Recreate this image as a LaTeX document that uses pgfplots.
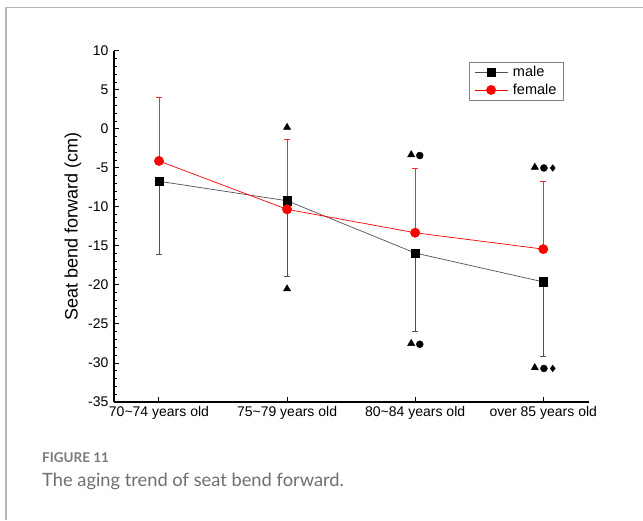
\documentclass[border=0pt]{standalone}
\usepackage{fontspec}
\setmainfont{Liberation Sans}
\newfontfamily\capfont{Lato}
\usepackage{pgfplots}
\pgfplotsset{compat=1.18}
\definecolor{framegray}{HTML}{B4B4B4}
\definecolor{capgray}{HTML}{7A7A7A}
\definecolor{capgray2}{HTML}{6E6E6E}
\definecolor{errgray}{HTML}{505050}
\definecolor{pred}{HTML}{FF0000}
\definecolor{femerrcol}{RGB}{255,40,40}

\pgfplotstableread{
x y
0 -6.7
1 -9.2
2 -15.9
3 -19.6
}\maletab
\pgfplotstableread{
x y
0 -4.1
1 -10.3
2 -13.3
3 -15.4
}\femaletab

\begin{document}
\begin{tikzpicture}[x=1pt,y=1pt]
\useasboundingbox (0,0) rectangle (643,520);
\draw[framegray, line width=1.5pt] (6,0) -- (6,512.5) -- (643,512.5);
\begin{axis}[
  at={(114pt,118pt)}, anchor=south west,
  scale only axis, width=475pt, height=351pt,
  xmin=-0.351, xmax=3.357, ymin=-35, ymax=10,
  axis x line*=bottom, axis y line*=left,
  axis line style={-, line width=1.1pt},
  every tick/.style={black, line width=1pt},
  tick align=inside,
  major tick length=5pt, minor tick length=3pt,
  xtick={0,1,2,3},
  xticklabels={70\textasciitilde 74 years old, 75\textasciitilde 79 years old, 80\textasciitilde 84 years old, over 85 years old},
  ytick={-35,-30,...,10},
  minor ytick={-34,-33,...,9},
  /pgf/number format/assume math mode=true,
  tick label style={font=\fontsize{14}{16}\selectfont},
  yticklabel style={xshift=-2pt},
  xticklabel style={yshift=-1pt},
  ylabel={Seat bend forward (cm)},
  ylabel style={font=\fontsize{18}{20}\selectfont},
  clip=false,
  legend style={at={(0.747,0.97)}, anchor=north west, draw=gray, line width=0.8pt,
    font=\fontsize{14.5}{16}\selectfont, inner xsep=5pt, inner ysep=2.5pt, row sep=1.5pt,
    cells={anchor=west}},
  legend image code/.code={\draw[#1, mark=none] (0pt,0pt) -- (33pt,0pt);
    \draw[#1, only marks] plot coordinates {(16.5pt,0pt)};
    \path (36pt,0pt);},
]
% error bars (male: lower, female: upper)
\addplot[color=errgray, line width=0.8pt, mark=-, mark size=3.2pt, mark indices={2}, forget plot] coordinates {(0,-6.7) (0,-16.1)};
\addplot[color=errgray, line width=0.8pt, mark=-, mark size=3.2pt, mark indices={2}, forget plot] coordinates {(1,-9.2) (1,-18.9)};
\addplot[color=errgray, line width=0.8pt, mark=-, mark size=3.2pt, mark indices={2}, forget plot] coordinates {(2,-15.9) (2,-25.9)};
\addplot[color=errgray, line width=0.8pt, mark=-, mark size=3.2pt, mark indices={2}, forget plot] coordinates {(3,-19.6) (3,-29.2)};
\addplot[color=femerrcol, line width=0.8pt, mark=-, mark size=3.2pt, mark indices={2}, forget plot] coordinates {(0,-4.1) (0,4.1)};
\addplot[color=femerrcol, line width=0.8pt, mark=-, mark size=3.2pt, mark indices={2}, forget plot] coordinates {(1,-10.3) (1,-1.3)};
\addplot[color=femerrcol, line width=0.8pt, mark=-, mark size=3.2pt, mark indices={2}, forget plot] coordinates {(2,-13.3) (2,-5.0)};
\addplot[color=femerrcol, line width=0.8pt, mark=-, mark size=3.2pt, mark indices={2}, forget plot] coordinates {(3,-15.4) (3,-6.7)};
\addplot[color=errgray, line width=0.7pt, mark=square*, mark size=4.2pt,
  mark options={fill=black, draw=black, line width=0.4pt}]
  table[x=x, y=y] {\maletab};
\addlegendentry{male}
\addplot[color=pred, line width=0.7pt, mark=*, mark size=4.7pt,
  mark options={fill=pred, draw=pred, line width=0.4pt}]
  table[x=x, y=y] {\femaletab};
\addlegendentry{female}
% significance symbols
\addplot[only marks, mark=triangle*, mark size=4.2pt, black, forget plot]
  coordinates {(1,0.2) (1,-20.5) (1.969,-3.3) (1.969,-27.5) (2.934,-4.9) (2.934,-30.6)};
\addplot[only marks, mark=*, mark size=3.5pt, black, forget plot]
  coordinates {(2.036,-3.4) (2.036,-27.6) (3.005,-5.0) (3.005,-30.7)};
\addplot[only marks, mark=diamond*, mark size=3.3pt, black, forget plot]
  coordinates {(3.074,-5.0) (3.074,-30.7)};
\end{axis}
\node[anchor=base west, inner sep=0pt, text=capgray, font=\capfont\bfseries\fontsize{13.5}{15}\selectfont] at (42,58) {FIGURE 11};
\node[anchor=base west, inner sep=0pt, text=capgray2, font=\capfont\fontsize{18.3}{20}\selectfont] at (42,34) {The aging trend of seat bend forward.};
\end{tikzpicture}
\end{document}
